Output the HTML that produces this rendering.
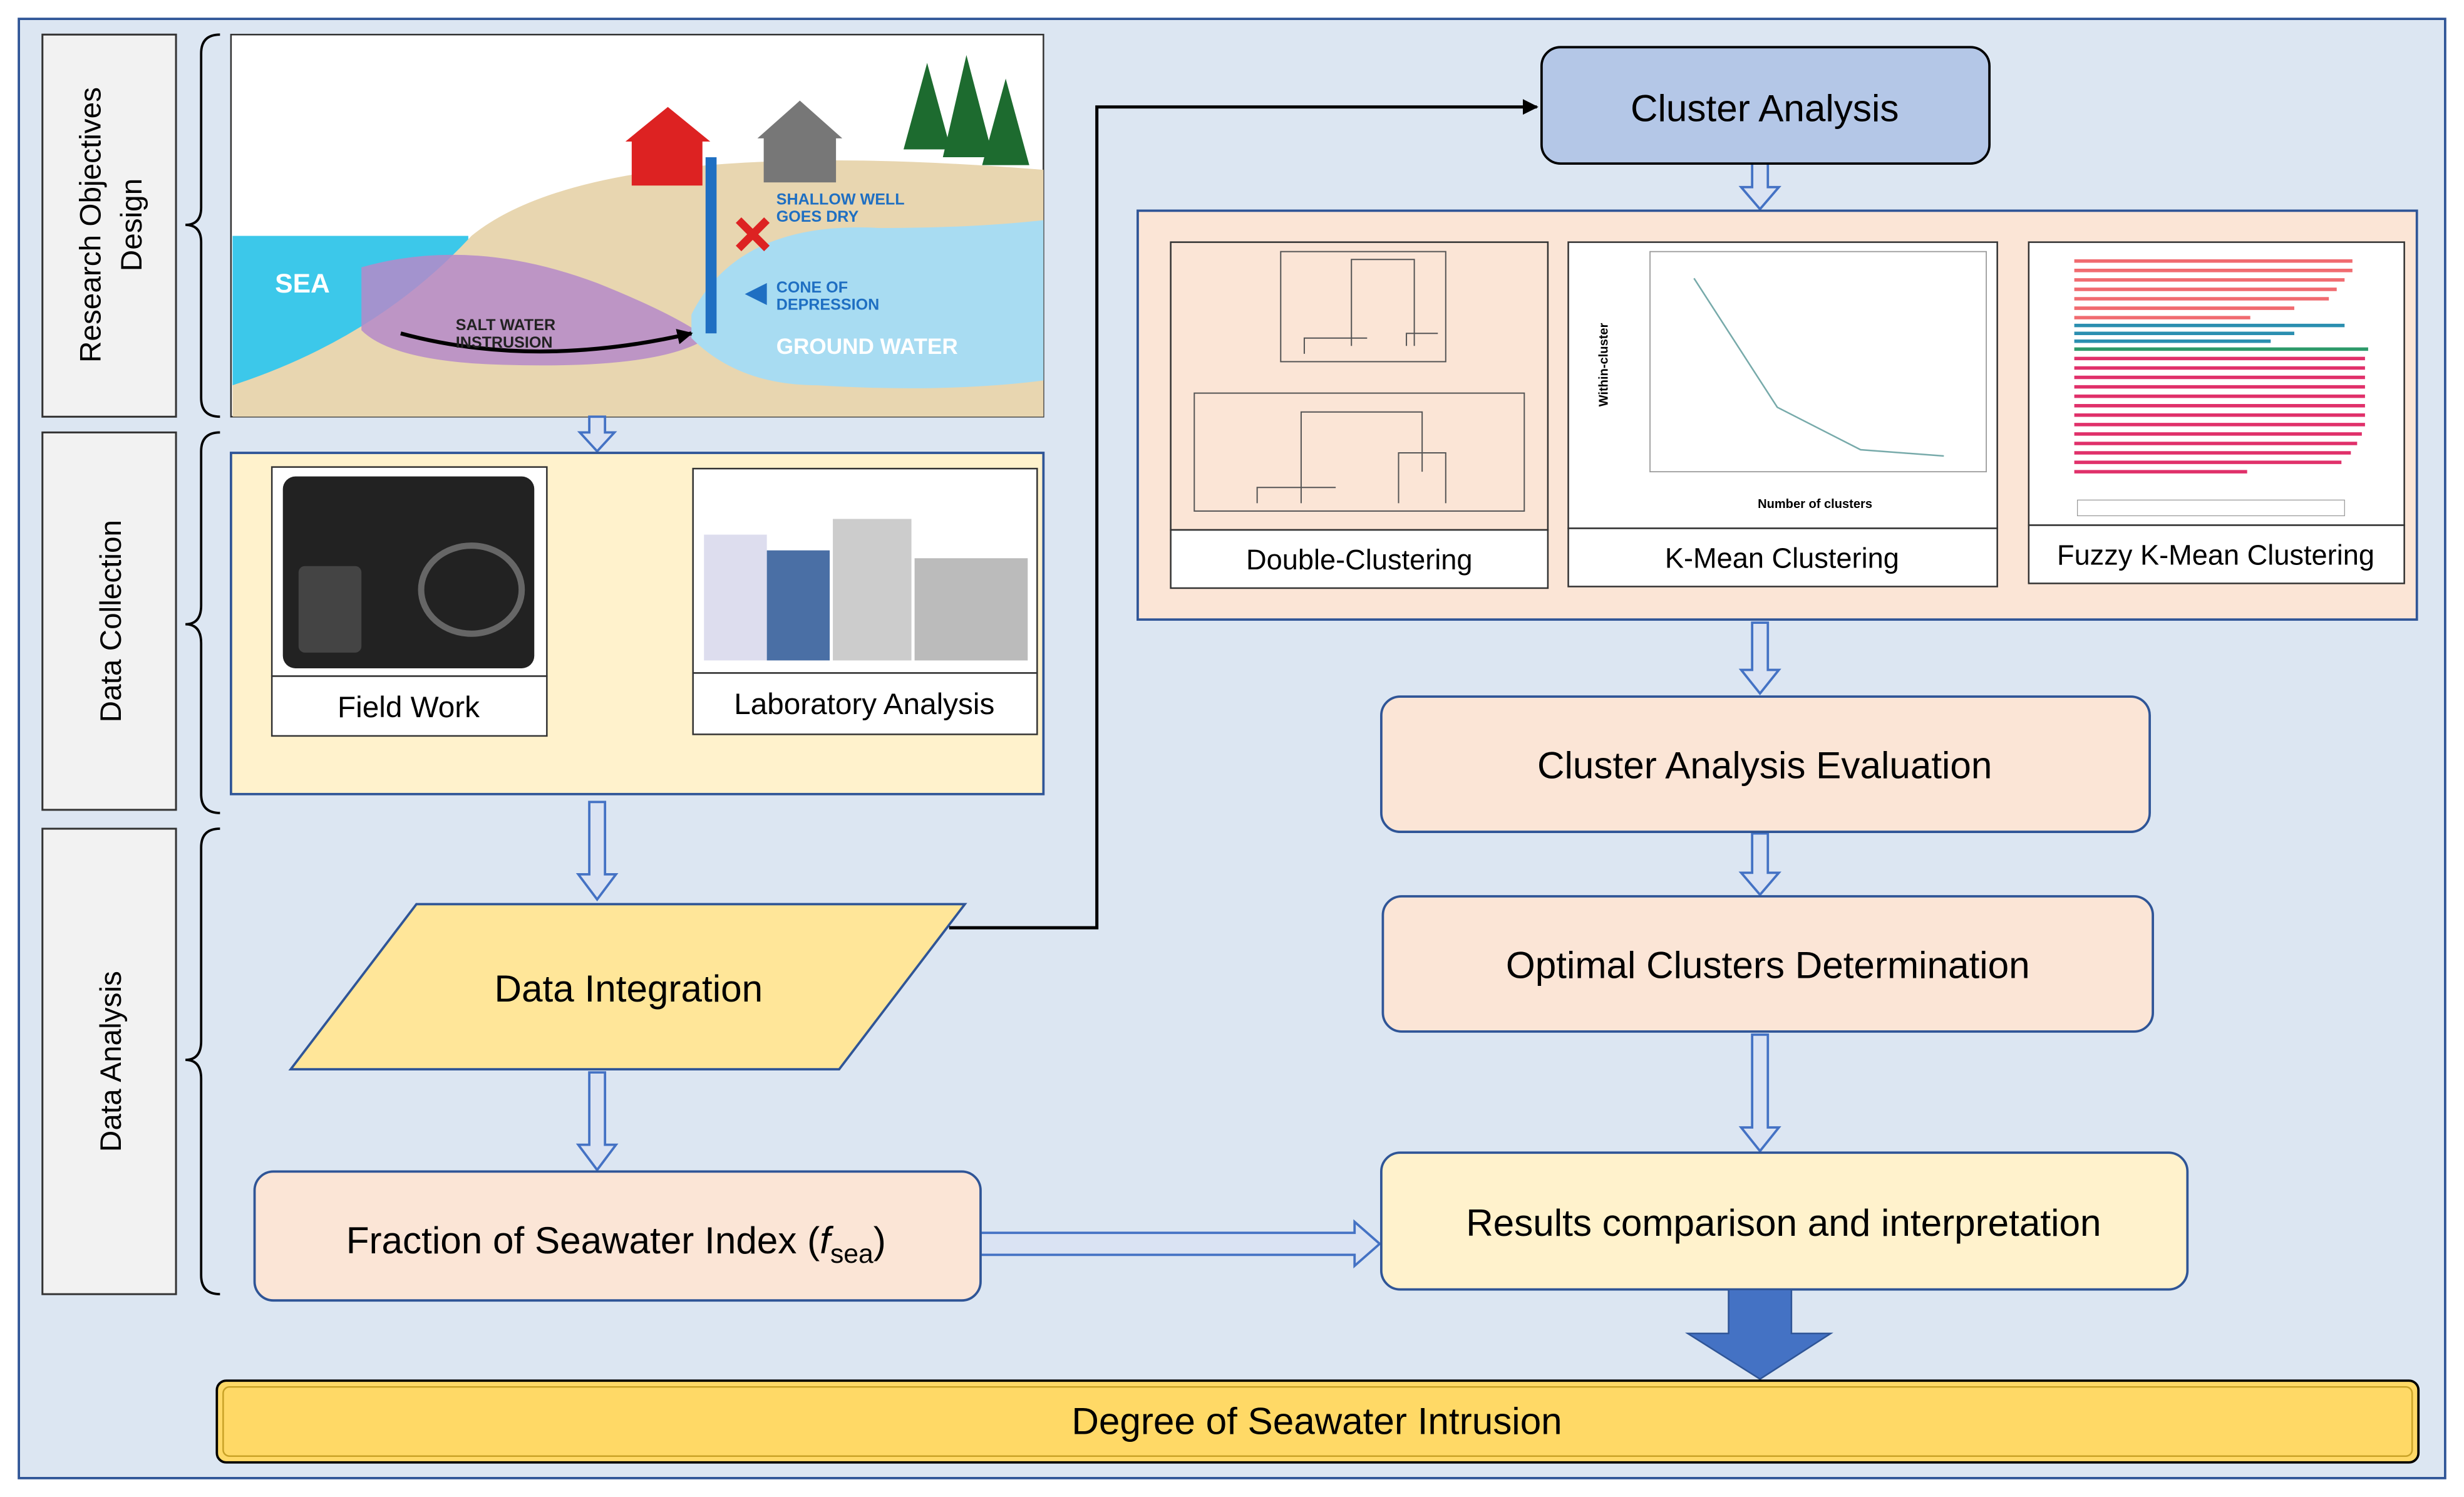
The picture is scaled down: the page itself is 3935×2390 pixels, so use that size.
<!DOCTYPE html>
<html><head><meta charset="utf-8"><style>
html,body{margin:0;padding:0;background:#fff}
svg{display:block}
text{font-family:"Liberation Sans",sans-serif}
</style></head><body>
<svg width="3935" height="2390" viewBox="0 0 1568 952" preserveAspectRatio="none" xmlns="http://www.w3.org/2000/svg">
<defs>
<marker id="ah" markerWidth="10" markerHeight="10" refX="9" refY="5" orient="auto" markerUnits="userSpaceOnUse"><path d="M0,0 L10,5 L0,10 z" fill="#000"/></marker>
</defs>
<rect x="0" y="0" width="1568" height="952" fill="#fff"/>
<rect x="12" y="12" width="1544" height="928" fill="#dce6f2" stroke="#2f5597" stroke-width="1.5"/>

<!-- left labels -->
<g stroke="#333" stroke-width="1.2" fill="#f2f2f2">
<rect x="27" y="22" width="85" height="243"/>
<rect x="27" y="275" width="85" height="240"/>
<rect x="27" y="527" width="85" height="296"/>
</g>
<g font-size="19" fill="#000" text-anchor="middle">
<text transform="translate(64,143) rotate(-90)">Research Objectives</text>
<text transform="translate(90,143) rotate(-90)">Design</text>
<text transform="translate(77,395) rotate(-90)">Data Collection</text>
<text transform="translate(77,675) rotate(-90)">Data Analysis</text>
</g>
<!-- braces -->
<g fill="none" stroke="#000" stroke-width="1.5">
<path d="M140,22 Q128,22 128,34 L128,132 Q128,143 118,143 Q128,143 128,154 L128,253 Q128,265 140,265"/>
<path d="M140,275 Q128,275 128,287 L128,385 Q128,397 118,397 Q128,397 128,409 L128,505 Q128,517 140,517"/>
<path d="M140,527 Q128,527 128,539 L128,662 Q128,674 118,674 Q128,674 128,686 L128,811 Q128,823 140,823"/>
</g>

<!-- illustration -->
<rect x="147" y="22" width="517" height="243" fill="#fff" stroke="#333"/>
<rect x="148" y="150" width="150" height="95" fill="#3cc8ea"/>
<path d="M148,265 L148,245 Q240,215 300,150 Q380,85 664,108 L664,265 Z" fill="#e8d6b0"/>
<path d="M230,170 Q300,150 380,180 Q430,200 450,215 Q420,235 320,232 Q250,230 230,210 Z" fill="#b58ac9" opacity="0.85"/>
<path d="M440,200 Q470,140 560,145 Q620,145 664,140 L664,242 Q600,250 520,245 Q470,245 440,215 Z" fill="#a8dcf2"/>
<path d="M255,212 Q340,235 440,212" fill="none" stroke="#000" stroke-width="2.5" marker-end="url(#ah)"/>
<rect x="449" y="100" width="7" height="112" fill="#1f6fc2"/>
<rect x="402" y="88" width="45" height="30" fill="#d22"/><path d="M398,90 L425,68 L452,90 Z" fill="#d22"/>
<rect x="486" y="86" width="46" height="30" fill="#777"/><path d="M482,88 L509,64 L536,88 Z" fill="#777"/>
<path d="M470,140 L488,158 M488,140 L470,158" stroke="#d22" stroke-width="5"/>
<path d="M575,95 L590,40 L605,95 Z M600,100 L615,35 L632,100 Z M625,105 L640,50 L655,105 Z" fill="#1d6b2f"/>
<text x="175" y="186" font-size="17" font-weight="bold" fill="#fff" font-family="Liberation Serif">SEA</text>
<text x="290" y="210" font-size="10" font-weight="bold" fill="#222" font-family="Liberation Serif">SALT WATER</text>
<text x="290" y="221" font-size="10" font-weight="bold" fill="#222" font-family="Liberation Serif">INSTRUSION</text>
<text x="494" y="130" font-size="10" font-weight="bold" fill="#1f6fc2" font-family="Liberation Serif">SHALLOW WELL</text>
<text x="494" y="141" font-size="10" font-weight="bold" fill="#1f6fc2" font-family="Liberation Serif">GOES DRY</text>
<path d="M474,187 L488,180 L488,194 Z" fill="#1f6fc2"/>
<text x="494" y="186" font-size="10" font-weight="bold" fill="#1f6fc2" font-family="Liberation Serif">CONE OF</text>
<text x="494" y="197" font-size="10" font-weight="bold" fill="#1f6fc2" font-family="Liberation Serif">DEPRESSION</text>
<text x="494" y="225" font-size="14" font-weight="bold" fill="#fff" font-family="Liberation Serif">GROUND WATER</text>

<!-- hollow arrows -->
<g fill="#dae3f3" stroke="#4472c4" stroke-width="1.5">
<path d="M375,265 L385,265 L385,275 L391,275 L380,287 L369,275 L375,275 Z"/>
<path d="M375,510 L385,510 L385,556 L392,556 L380,572 L368,556 L375,556 Z"/>
<path d="M375,682 L385,682 L385,728 L392,728 L380,744 L368,728 L375,728 Z"/>
<path d="M1115,104 L1125,104 L1125,119 L1132,119 L1120,133 L1108,119 L1115,119 Z"/>
<path d="M1115,396 L1125,396 L1125,426 L1132,426 L1120,441 L1108,426 L1115,426 Z"/>
<path d="M1115,530 L1125,530 L1125,555 L1132,555 L1120,569 L1108,555 L1115,555 Z"/>
<path d="M1115,658 L1125,658 L1125,717 L1132,717 L1120,732 L1108,717 L1115,717 Z"/>
<path d="M624,784 L862,784 L862,777 L878,791 L862,805 L862,798 L624,798 Z"/>
</g>

<!-- data collection -->
<rect x="147" y="288" width="517" height="217" fill="#fff2cc" stroke="#2f5597" stroke-width="1.5"/>
<rect x="173" y="297" width="175" height="133" fill="#fff" stroke="#333"/>
<rect x="180" y="303" width="160" height="122" rx="8" fill="#222"/>
<ellipse cx="300" cy="375" rx="32" ry="28" fill="none" stroke="#666" stroke-width="4"/>
<rect x="190" y="360" width="40" height="55" rx="4" fill="#444"/>
<rect x="173" y="430" width="175" height="38" fill="#fff" stroke="#333"/>
<text x="260" y="456" font-size="19" text-anchor="middle">Field Work</text>
<rect x="441" y="298" width="219" height="130" fill="#fff" stroke="#333"/>
<rect x="448" y="340" width="40" height="80" fill="#dde"/><rect x="488" y="350" width="40" height="70" fill="#4a6fa5"/>
<rect x="530" y="330" width="50" height="90" fill="#ccc"/><rect x="582" y="355" width="72" height="65" fill="#bbb"/>
<rect x="441" y="428" width="219" height="39" fill="#fff" stroke="#333"/>
<text x="550" y="454" font-size="19" text-anchor="middle">Laboratory Analysis</text>

<!-- data integration -->
<path d="M185,680 L265,575 L614,575 L534,680 Z" fill="#ffe699" stroke="#2f5597" stroke-width="1.5"/>
<text x="400" y="637" font-size="24" text-anchor="middle">Data Integration</text>
<path d="M604,590 L698,590 L698,68 L978,68" fill="none" stroke="#000" stroke-width="2" marker-end="url(#ah)"/>

<!-- fraction -->
<rect x="162" y="745" width="462" height="82" rx="12" fill="#fbe5d6" stroke="#2f5597" stroke-width="1.5"/>
<text x="392" y="797" font-size="24" text-anchor="middle">Fraction of Seawater Index (<tspan font-style="italic">f</tspan><tspan font-size="17" dy="6">sea</tspan><tspan dy="-6">)</tspan></text>

<!-- cluster analysis -->
<rect x="981" y="30" width="285" height="74" rx="12" fill="#b4c7e7" stroke="#000" stroke-width="1.5"/>
<text x="1123" y="77" font-size="24" text-anchor="middle">Cluster Analysis</text>
<rect x="724" y="134" width="814" height="260" fill="#fbe5d6" stroke="#2f5597" stroke-width="1.5"/>

<rect x="745" y="154" width="240" height="183" fill="#fbe5d6" stroke="#333"/>
<g fill="none" stroke="#555" stroke-width="0.8">
<rect x="815" y="160" width="105" height="70"/><path d="M860,220 L860,165 L900,165 L900,220 M830,225 L830,215 L870,215 M895,220 L895,212 L915,212"/>
<rect x="760" y="250" width="210" height="75"/><path d="M828,320 L828,262 L905,262 L905,300 M890,320 L890,288 L920,288 L920,320 M800,320 L800,310 L850,310"/>
</g>
<rect x="745" y="337" width="240" height="37" fill="#fff" stroke="#333"/>
<text x="865" y="362" font-size="18" text-anchor="middle">Double-Clustering</text>

<rect x="998" y="154" width="273" height="182" fill="#fff" stroke="#333"/>
<rect x="1050" y="160" width="214" height="140" fill="#fff" stroke="#999" stroke-width="0.7"/>
<polyline points="1078,177 1131,259 1184,286 1237,290" fill="none" stroke="#7aa" stroke-width="1"/>
<text x="1155" y="323" font-size="8" font-weight="bold" text-anchor="middle">Number of clusters</text>
<text transform="translate(1023,232) rotate(-90)" font-size="8" font-weight="bold" text-anchor="middle">Within-cluster</text>
<rect x="998" y="336" width="273" height="37" fill="#fff" stroke="#333"/>
<text x="1134" y="361" font-size="18" text-anchor="middle">K-Mean Clustering</text>

<rect x="1291" y="154" width="239" height="180" fill="#fff" stroke="#333"/>
<g stroke-width="2.2">
<path d="M1320,166 H1497 M1320,172 H1497 M1320,178 H1492 M1320,184 H1487 M1320,190 H1482 M1320,196 H1460" stroke="#f06b70"/>
<path d="M1320,202 H1432" stroke="#f06b70"/>
<path d="M1320,207 H1492 M1320,212 H1460 M1320,217 H1445" stroke="#2b8fb0"/>
<path d="M1320,222 H1507" stroke="#2e9a6a"/>
<path d="M1320,228 H1505 M1320,234 H1505 M1320,240 H1505 M1320,246 H1505 M1320,252 H1505 M1320,258 H1505 M1320,264 H1505 M1320,270 H1505 M1320,276 H1503 M1320,282 H1500 M1320,288 H1496 M1320,294 H1490 M1320,300 H1430" stroke="#e0306a"/>
</g>
<rect x="1322" y="318" width="170" height="10" fill="#fff" stroke="#999" stroke-width="0.5"/>
<rect x="1291" y="334" width="239" height="37" fill="#fff" stroke="#333"/>
<text x="1410" y="359" font-size="18" text-anchor="middle">Fuzzy K-Mean Clustering</text>

<rect x="879" y="443" width="489" height="86" rx="12" fill="#fbe5d6" stroke="#2f5597" stroke-width="1.5"/>
<text x="1123" y="495" font-size="24" text-anchor="middle">Cluster Analysis Evaluation</text>
<rect x="880" y="570" width="490" height="86" rx="12" fill="#fbe5d6" stroke="#2f5597" stroke-width="1.5"/>
<text x="1125" y="622" font-size="24" text-anchor="middle">Optimal Clusters Determination</text>
<rect x="879" y="733" width="513" height="87" rx="12" fill="#fff2cc" stroke="#2f5597" stroke-width="1.5"/>
<text x="1135" y="786" font-size="24" text-anchor="middle">Results comparison and interpretation</text>

<path d="M1100,820 L1140,820 L1140,848 L1165,848 L1120,877 L1074,848 L1100,848 Z" fill="#4472c4" stroke="#2f5597"/>

<rect x="138" y="878" width="1401" height="52" rx="6" fill="#ffd966" stroke="#000" stroke-width="1.5"/>
<rect x="142" y="882" width="1393" height="44" rx="4" fill="none" stroke="#c9a227" stroke-width="1"/>
<text x="838" y="912" font-size="24" text-anchor="middle">Degree of Seawater Intrusion</text>
</svg>
</body></html>
